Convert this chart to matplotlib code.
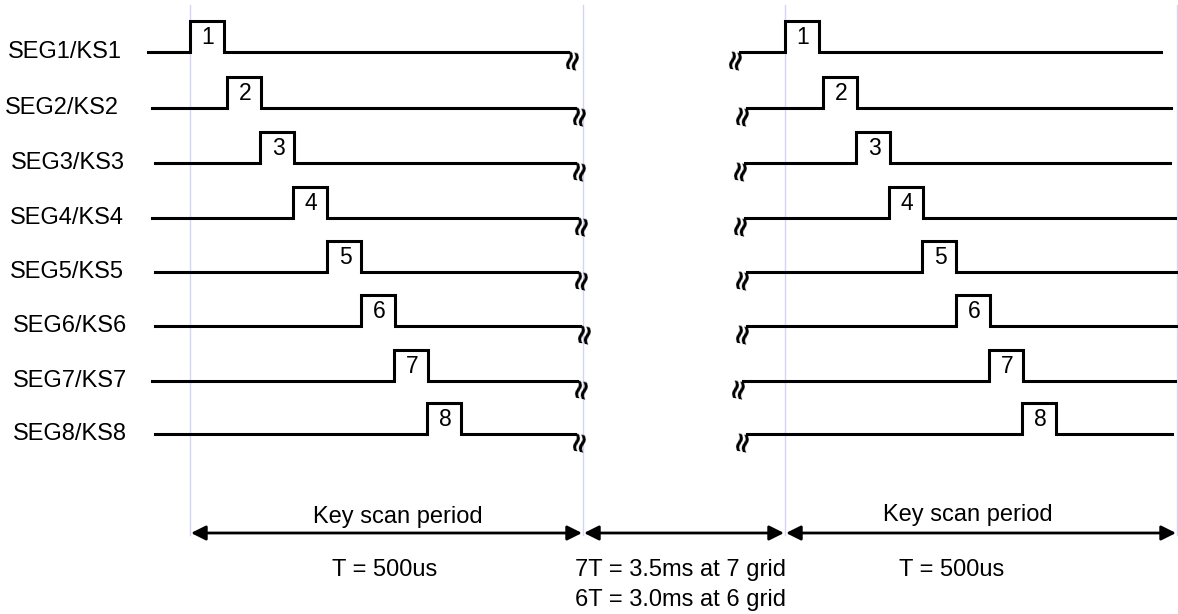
import matplotlib.pyplot as plt

plt.rcParams['font.family'] = ['Liberation Sans', 'DejaVu Sans']

# Signal rows (pixel coordinates, y grows downward)
row_labels = ['SEG1/KS1', 'SEG2/KS2', 'SEG3/KS3', 'SEG4/KS4',
              'SEG5/KS5', 'SEG6/KS6', 'SEG7/KS7', 'SEG8/KS8']
label_x = [8, 5, 11, 10, 10, 13, 13, 13]
base_y = [52, 108, 163, 218, 272, 326, 381, 434]

# left scan period
left_start = [148, 152, 155, 152, 155, 155, 152, 155]
left_end = [568, 575, 575, 577, 577, 580, 577, 575]
left_pulse = [190, 227, 260, 293, 327, 361, 394, 427]

# right scan period
right_start = [740, 747, 745, 745, 747, 747, 743, 747]
right_end = [1161, 1171, 1170, 1175, 1178, 1178, 1175, 1172]
right_pulse = [785, 823, 856, 889, 922, 956, 989, 1022]

pulse_w = 34
pulse_h = 31

# period markers
period_x = [190, 583, 785, 1177]
arrow_y = 533

fig = plt.figure(figsize=(11.78, 6.14), dpi=100)
ax = fig.add_axes([0, 0, 1, 1])
ax.set_xlim(0, 1178)
ax.set_ylim(614, 0)
ax.axis('off')

# light guide lines
for x in period_x:
    ax.plot([x, x], [5, 535], color='#d4d4f7', lw=1, zorder=1)

def draw_wave(x0, x1, px, y, num):
    xs = [x0, px, px, px + pulse_w, px + pulse_w, x1]
    ys = [y, y, y - pulse_h, y - pulse_h, y, y]
    ax.plot(xs, ys, color='black', lw=2.2, solid_joinstyle='miter', zorder=3)
    ax.text(px + pulse_w / 2 + 1, y - pulse_h / 2 + 1, str(num), fontsize=16.5,
            ha='center', va='center', zorder=4)

for i, lab in enumerate(row_labels):
    y = base_y[i]
    ax.text(label_x[i], y, lab, fontsize=17, ha='left', va='center')
    draw_wave(left_start[i], left_end[i], left_pulse[i], y, i + 1)
    draw_wave(right_start[i], right_end[i], right_pulse[i], y, i + 1)
    # break marks
    ax.text(left_end[i] + 3, y + 6, '≈', fontsize=20, fontweight='bold',
            rotation=78, ha='center', va='center', family='DejaVu Sans')
    ax.text(right_start[i] - 6, y + 6, '≈', fontsize=20, fontweight='bold',
            rotation=78, ha='center', va='center', family='DejaVu Sans')

# period arrows
for xa, xb in zip(period_x[:-1], period_x[1:]):
    ax.annotate('', xy=(xb - 1, arrow_y), xytext=(xa + 1, arrow_y),
                arrowprops=dict(arrowstyle='<|-|>', color='black', lw=2,
                                mutation_scale=22, shrinkA=0, shrinkB=0))

ax.text(398, 517, 'Key scan period', fontsize=17, ha='center', va='center')
ax.text(968, 515, 'Key scan period', fontsize=17, ha='center', va='center')
ax.text(385, 570, 'T = 500us', fontsize=17, ha='center', va='center')
ax.text(952, 570, 'T = 500us', fontsize=17, ha='center', va='center')
ax.text(575, 570, '7T = 3.5ms at 7 grid', fontsize=17, ha='left', va='center')
ax.text(575, 600, '6T = 3.0ms at 6 grid', fontsize=17, ha='left', va='center')

fig.savefig('out.png', dpi=100)
